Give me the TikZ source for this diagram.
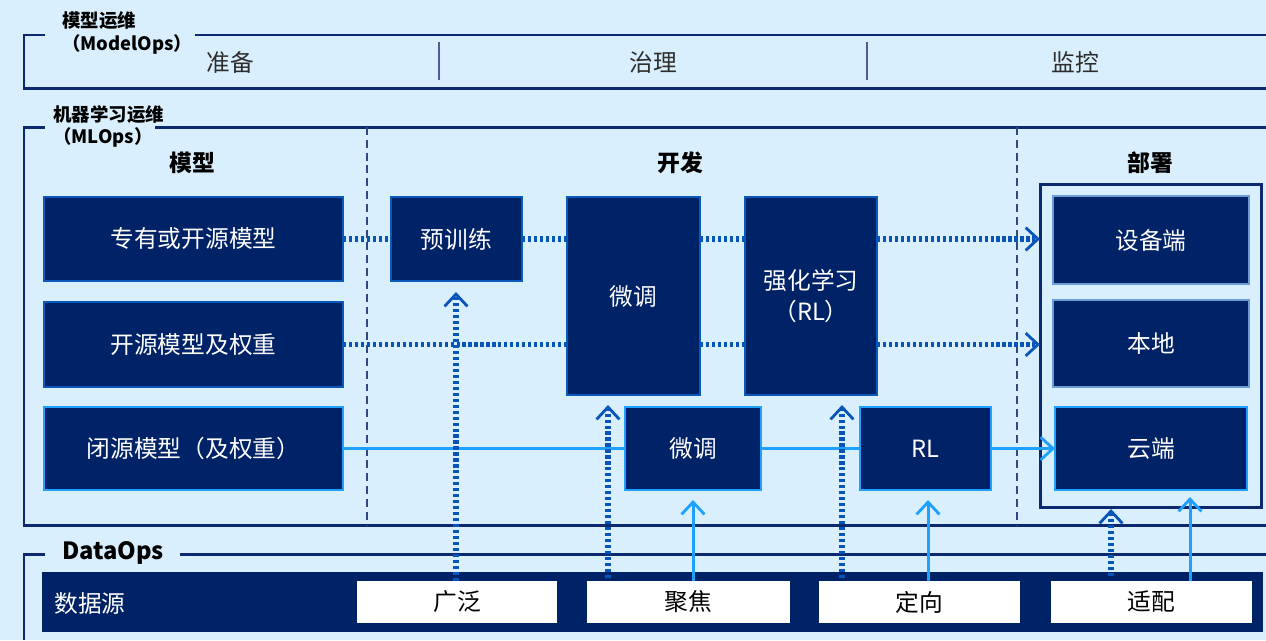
\documentclass[tikz,border=0pt]{standalone}
\usepackage{fontspec}
\setmainfont{Noto Sans CJK SC}
\usetikzlibrary{arrows.meta}
\definecolor{bgc}{RGB}{217,239,253}
\definecolor{navy}{RGB}{0,34,102}
\definecolor{framec}{RGB}{12,40,110}
\definecolor{midb}{RGB}{10,90,185}
\definecolor{brt}{RGB}{30,160,255}
\definecolor{dotc}{RGB}{8,85,185}
\definecolor{graytxt}{RGB}{45,45,45}
\newcommand\pbox[7]{%
  \node[#1, minimum width={(#5-#3)*0.02cm}, minimum height={(#6-#4)*0.02cm}] (#2) at ({(#3+#5)/2},{(#4+#6)/2}) {#7};}
\begin{document}
\begin{tikzpicture}[x=0.02cm,y=-0.02cm,
 frameln/.style={draw=framec,line width=1.7pt},
 box/.style={fill=navy,draw=midb,line width=1.6pt,text=white,font=\fontsize{13.5}{18}\selectfont,inner sep=0pt,outer sep=0pt,align=center},
 boxb/.style={box,draw=brt},
 boxd/.style={box,draw=midb!60!white,line width=0.6pt},
 deplbox/.style={draw=framec,line width=1.7pt,inner sep=0pt,outer sep=0pt},
 wbox/.style={fill=white,draw=none,text=black,font=\fontsize{13.5}{16}\selectfont,inner sep=0pt,outer sep=0pt},
 hdr/.style={font=\bfseries\fontsize{13}{16}\selectfont,text=black},
 lbl/.style={font=\bfseries\fontsize{10.5}{12}\selectfont,text=black,anchor=west,inner sep=0pt},
 toptxt/.style={text=graytxt,font=\fontsize{13.5}{16}\selectfont},
 dotl/.style={draw=dotc,line width=2.9pt,dash pattern=on 1.8pt off 1.6pt},
 solidl/.style={draw=brt,line width=1.7pt},
 chev/.style={-{Straight Barb[length=7pt,width=13pt,line width=1.6pt]}},
 divd/.style={draw=framec!85!white,line width=1.1pt,dash pattern=on 4.5pt off 2.8pt},
 divs/.style={draw=framec!75!white,line width=1.1pt},
]
\fill[bgc] (0,0) rectangle (1266,640);
\useasboundingbox (0,0) rectangle (1266,640);

% ModelOps frame
\draw[frameln] (45,35) -- (24,35) -- (24,88) -- (1266,88);
\draw[frameln] (195,35) -- (1266,35);
\node[lbl] (lab1a) at (62,21) {模型运维};
\node[lbl] (lab1b) at (62,44) {（ModelOps）};
\node[toptxt] (prep) at (230,62) {准备};
\node[toptxt] (gov) at (653,62) {治理};
\node[toptxt] (mon) at (1075,62) {监控};
\draw[divs] (439,42) -- (439,80);
\draw[divs] (867,42) -- (867,80);

% MLOps frame
\draw[frameln] (45,127) -- (24,127) -- (24,525) -- (1266,525);
\draw[frameln] (155,127) -- (1266,127);
\node[lbl] (lab2a) at (53,115) {机器学习运维};
\node[lbl] (lab2b) at (53,137) {（MLOps）};
\draw[divd] (367,127) -- (367,525);
\draw[divd] (1017,127) -- (1017,525);
\node[hdr] (h1) at (192,163) {模型};
\node[hdr] (h2) at (680,163) {开发};
\node[hdr] (h3) at (1150,163) {部署};

% DataOps frame
\draw[frameln] (45,554) -- (24,554) -- (24,640);
\draw[frameln] (180,554) -- (1266,554);
\node[lbl,font=\bfseries\fontsize{13.5}{16}\selectfont] (lab3) at (62,553) {DataOps};
\fill[navy] (42,572) rectangle (1263,632);
\node[text=white,font=\fontsize{13.5}{16}\selectfont,anchor=west,inner sep=0pt] (src) at (54,603) {数据源};
\pbox{wbox}{guang}{357}{581}{557}{623}{广泛}
\pbox{wbox}{jujiao}{587}{581}{790}{623}{聚焦}
\pbox{wbox}{dingx}{819}{581}{1020}{623}{定向}
\pbox{wbox}{shipei}{1051}{581}{1252}{623}{适配}

% boxes
\pbox{box}{m1}{44}{197}{343}{281}{专有或开源模型}
\pbox{box}{m2}{44}{302}{343}{387}{开源模型及权重}
\pbox{boxb}{m3}{44}{407}{343}{490}{闭源模型（及权重）}
\pbox{box}{pre}{391}{197}{522}{281}{预训练}
\pbox{box}{ft}{567}{197}{700}{395}{微调}
\pbox{box}{rl}{745}{197}{877}{395}{强化学习\\（RL）}
\pbox{boxb}{ft2}{625}{407}{761}{490}{微调}
\pbox{boxb}{rl2}{860}{407}{991}{490}{RL}
\pbox{deplbox}{deploy}{1040}{184}{1261}{507}{}
\pbox{boxd}{dev}{1053}{196}{1249}{284}{设备端}
\pbox{boxd}{local}{1053}{300}{1249}{387}{本地}
\pbox{boxb}{cloud}{1055}{407}{1247}{490}{云端}

% solid connectors
\draw[solidl] (m3.east) -- (ft2.west);
\draw[solidl] (ft2.east) -- (rl2.west);
\draw[solidl,chev] (rl2.east) -- (cloud.west);
\draw[solidl,chev,shorten >=0.2cm] (ft2.south |- jujiao.north) -- (ft2.south);
\coordinate (d2) at (928,581);
\draw[solidl,chev,shorten >=0.2cm] (d2) -- (d2 |- rl2.south);
\coordinate (a2) at (1190,581);
\draw[solidl,chev,shorten >=0.14cm] (a2) -- (a2 |- cloud.south);

% dotted connectors
\draw[dotl] (m1.east) -- (pre.west);
\draw[dotl] (pre.east) -- (pre.east -| ft.west);
\draw[dotl] (ft.east |- pre.east) -- (rl.west |- pre.east);
\draw[dotl,chev] (rl.east |- pre.east) -- (deploy.west |- pre.east);
\draw[dotl] (m2.east) -- (m2.east -| ft.west);
\draw[dotl] (ft.east |- m2.east) -- (rl.west |- m2.east);
\draw[dotl,chev] (rl.east |- m2.east) -- (deploy.west |- m2.east);
\coordinate (g1) at (456,581);
\draw[dotl,chev,shorten >=0.22cm] (g1) -- (g1 |- pre.south);
\coordinate (f1) at (608,578);
\draw[dotl,chev,shorten >=0.2cm] (f1) -- (f1 |- ft.south);
\coordinate (d1) at (842,578);
\draw[dotl,chev,shorten >=0.2cm] (d1) -- (d1 |- rl.south);
\coordinate (a1) at (1111,576);
\draw[dotl,chev,shorten >=0.04cm] (a1) -- (a1 |- deploy.south);
\end{tikzpicture}
\end{document}
